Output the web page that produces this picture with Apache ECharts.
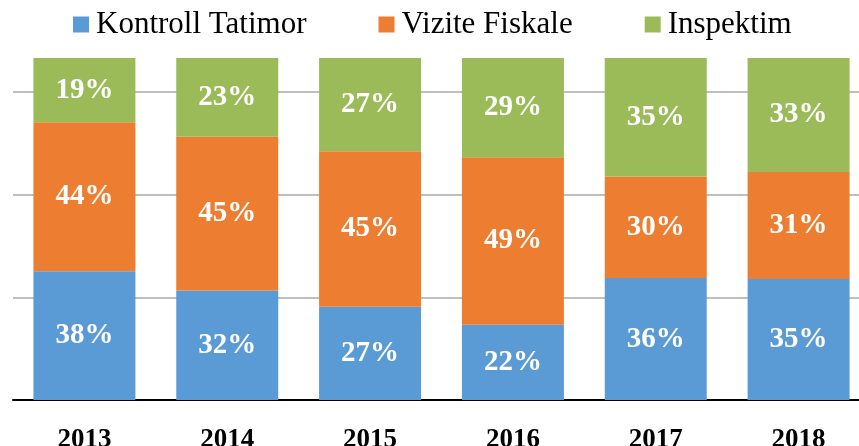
<!DOCTYPE html>
<html>
<head>
<meta charset="utf-8">
<script src="https://cdn.jsdelivr.net/npm/echarts@6/dist/echarts.min.js"></script>
<style>
  html, body { margin: 0; padding: 0; background: #fff; }
  #main { width: 859px; height: 446px; }
</style>
</head>
<body>
<div id="main"></div>
<script>
// vitet
var years = ['2013', '2014', '2015', '2016', '2017', '2018'];
// perqindjet e lexuara nga grafiku
var kontroll = [38, 32, 27, 22, 36, 35];
var vizite = [44, 45, 45, 49, 30, 31];
var inspektim = [19, 23, 27, 29, 35, 33];
var yTicks = [0, 0.3, 0.6, 0.9];

// shtyllat jane 100% te plota, ndaj normalizojme
function share(arr, i) {
  var tot = kontroll[i] + vizite[i] + inspektim[i];
  return arr[i] / tot;
}
function mkData(arr) {
  return arr.map(function (v, i) {
    return { value: share(arr, i), label: v };
  });
}

var labelStyle = {
  show: true,
  position: 'inside',
  color: '#fff',
  fontFamily: 'Liberation Serif',
  fontWeight: 'bold',
  fontSize: 29,
  formatter: function (p) { return p.data.label + '%'; }
};

var myChart = echarts.init(document.getElementById('main'));
myChart.setOption({
  animation: false,
  legend: {
    top: 4,
    left: 68,
    itemWidth: 16,
    itemHeight: 16,
    itemGap: 72,
    icon: 'rect',
    textStyle: { fontFamily: 'Liberation Serif', fontSize: 31, color: '#000', padding: [0, 0, 0, 2] },
    data: ['Kontroll Tatimor', 'Vizite Fiskale', 'Inspektim']
  },
  grid: { left: 13, width: 857, top: 58, bottom: 46, containLabel: false, outerBoundsMode: 'none' },
  xAxis: {
    type: 'category',
    data: years,
    axisTick: { show: false },
    axisLine: { lineStyle: { color: '#000', width: 2 } },
    axisLabel: {
      color: '#000',
      fontFamily: 'Liberation Serif',
      fontWeight: 'bold',
      fontSize: 27,
      margin: 27
    }
  },
  yAxis: {
    type: 'value',
    min: 0,
    max: 1,
    interval: yTicks[1] - yTicks[0],
    axisLabel: { show: false },
    axisLine: { show: false },
    axisTick: { show: false },
    splitLine: { showMaxLine: false, lineStyle: { color: '#bfbfbf', width: 2 } }
  },
  series: [
    {
      name: 'Kontroll Tatimor', type: 'bar', stack: 'a', barWidth: 102,
      itemStyle: { color: '#5b9bd5' }, label: labelStyle, data: mkData(kontroll)
    },
    {
      name: 'Vizite Fiskale', type: 'bar', stack: 'a', barWidth: 102,
      itemStyle: { color: '#ed7d31' }, label: labelStyle, data: mkData(vizite)
    },
    {
      name: 'Inspektim', type: 'bar', stack: 'a', barWidth: 102,
      itemStyle: { color: '#9bbb59' }, label: labelStyle, data: mkData(inspektim)
    }
  ]
});
</script>
</body>
</html>
